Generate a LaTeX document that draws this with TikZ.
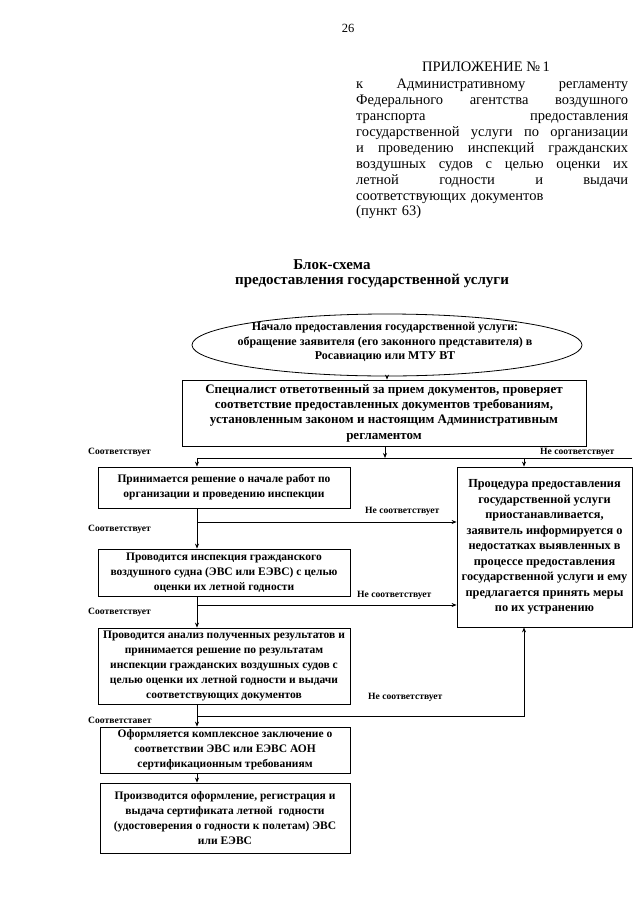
\documentclass[tikz,border=0pt]{standalone}
\usepackage{fontspec}
\setmainfont{Liberation Serif}
\usetikzlibrary{shapes.geometric,arrows.meta}
\newcommand{\jline}[1]{\makebox[272pt][l]{#1}}
\begin{document}
\begin{tikzpicture}[x=1pt,y=-1pt,
  box/.style={draw,line width=0.8pt,align=center,inner sep=1pt,font=\bfseries\fontsize{11.5}{15}\selectfont},
  arr/.style={line width=0.8pt,-{Stealth[length=5pt,width=4pt]}},
  ln/.style={line width=0.8pt},
  lbl/.style={font=\bfseries\fontsize{9.6}{10}\selectfont,inner sep=0pt,anchor=west},
  hdr/.style={font=\fontsize{14.5}{15.9}\selectfont,inner sep=0pt}]
\useasboundingbox[fill=white] (0,0) rectangle (640,905);

% header
\node[font=\fontsize{12.5}{14}\selectfont] (pg) at (348,28) {26};
\node[hdr] (app) at (486,67) {ПРИЛОЖЕНИЕ №\,1};
\node[hdr,anchor=north west,text width=272pt,align=left] (lines) at (356,79) {%
\jline{к\hfill Административному\hfill регламенту}\\
\jline{Федерального\hfill агентства\hfill воздушного}\\
\jline{транспорта\hfill предоставления}\\
\jline{государственной\hfill услуги\hfill по\hfill организации}\\
\jline{и\hfill проведению\hfill инспекций\hfill гражданских}\\
\jline{воздушных\hfill судов\hfill с\hfill целью\hfill оценки\hfill их}\\
\jline{летной\hfill годности\hfill и\hfill выдачи}\\
соответствующих документов\\
(пункт 63)};

\node[font=\bfseries\fontsize{15}{16}\selectfont,inner sep=0pt] (title1) at (332,265) {Блок-схема};
\node[font=\bfseries\fontsize{15}{16}\selectfont,inner sep=0pt] (title2) at (372,281) {предоставления государственной услуги};

% start ellipse
\node[draw,ellipse,line width=0.8pt,minimum width=390pt,minimum height=62pt,inner sep=0pt] (ell) at (387,345) {};
\node[font=\bfseries\fontsize{12}{14.5}\selectfont,align=center,inner sep=0pt] (elltxt) at (385,342) {Начало предоставления государственной услуги:\\обращение заявителя (его законного представителя) в\\Росавиацию или МТУ ВТ};

% boxes
\node[box,minimum width=404pt,minimum height=66pt,font=\bfseries\fontsize{13}{15.3}\selectfont] (b2) at (384,413) {Специалист ответотвенный за прием документов, проверяет\\соответствие предоставленных документов требованиям,\\установленным законом и настоящим Административным\\регламентом};
\node[box,minimum width=252pt,minimum height=41pt] (b3) at (224,487.5) {Принимается решение о начале работ по\\организации и проведению инспекции};
\node[box,minimum width=175pt,minimum height=160pt,font=\bfseries\fontsize{12.3}{15.5}\selectfont] (bp) at (544.5,547) {Процедура предоставления\\государственной услуги\\приостанавливается,\\заявитель информируется о\\недостатках выявленных в\\процессе предоставления\\государственной услуги и ему\\предлагается принять меры\\по их устранению};
\node[box,minimum width=252pt,minimum height=47pt] (b4) at (224,572.5) {Проводится инспекция гражданского\\воздушного судна (ЭВС или ЕЭВС) с целью\\оценки их летной годности};
\node[box,minimum width=252pt,minimum height=76pt] (b5) at (224,666) {Проводится анализ полученных результатов и\\принимается решение по результатам\\инспекции гражданских воздушных судов с\\целью оценки их летной годности и выдачи\\соответствующих документов};
\node[box,minimum width=250pt,minimum height=46pt] (b6) at (225,750) {Оформляется комплексное заключение о\\соответствии ЭВС или ЕЭВС АОН\\сертификационным требованиям};
\node[box,minimum width=250pt,minimum height=70pt] (b7) at (225,818) {Производится оформление, регистрация и\\выдача сертификата летной\ \ годности\\(удостоверения о годности к полетам) ЭВС\\или ЕЭВС};

% junction coordinates
\coordinate (j1) at (385,458);
\coordinate (j1L) at (197,458);
\coordinate (j1R) at (632,458);
\coordinate (j1P) at (524,458);
\coordinate (j2) at (197,522);
\coordinate (j3) at (197,605);
\coordinate (j4) at (197,716);
\coordinate (j4R) at (524,716);

% connectors
\draw[arr] (ell.south) -- (ell.south |- b2.north);
\draw[arr] (b2.south -| j1) -- (j1);
\draw[ln] (j1L) -- (j1R);
\draw[arr] (j1L) -- (j1L |- b3.north);
\draw[arr] (j1P) -- (j1P |- bp.north);

\draw[arr] (j1L |- b3.south) -- (j1L |- b4.north);
\draw[arr] (j2) -- (j2 -| bp.west);

\draw[arr] (j1L |- b4.south) -- (j1L |- b5.north);
\draw[arr] (j3) -- (j3 -| bp.west);

\draw[arr] (j1L |- b5.south) -- (j1L |- b6.north);
\draw[arr] (j4) -- (j4R) -- (j4R |- bp.south);

\draw[arr] (j1L |- b6.south) -- (j1L |- b7.north);

% labels
\node[lbl] (l1) at (88,452) {Соответствует};
\node[lbl] (l2) at (540,452) {Не соответствует};
\node[lbl] (l3) at (365,511) {Не соответствует};
\node[lbl] (l4) at (88,529) {Соответствует};
\node[lbl] (l5) at (357,595) {Не соответствует};
\node[lbl] (l6) at (88,612) {Соответствует};
\node[lbl] (l7) at (368,697) {Не соответствует};
\node[lbl] (l8) at (88,720) {Соответставет};
\end{tikzpicture}
\end{document}
